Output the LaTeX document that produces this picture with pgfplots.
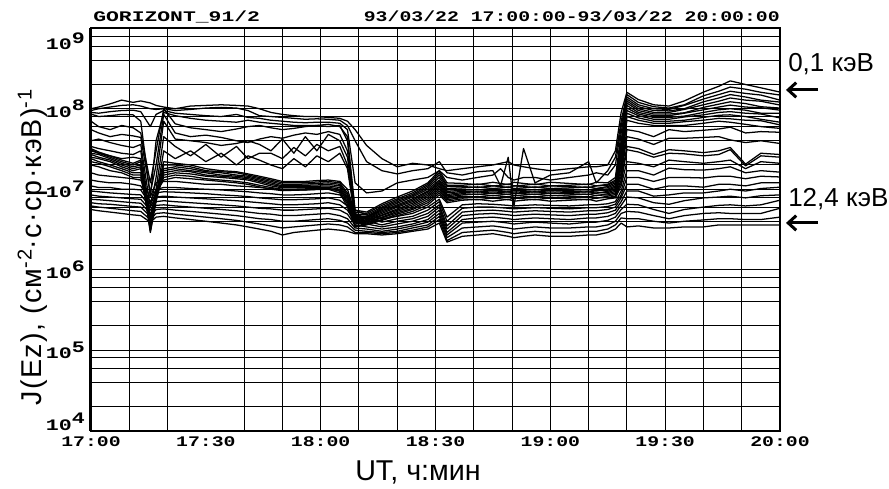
\documentclass[border=0pt]{standalone}
\usepackage{fontspec}
\usepackage{graphicx}
\usepackage{pgfplots}
\usepackage{pgfplotstable}
\pgfplotsset{compat=1.18}
\usetikzlibrary{arrows.meta}
\setmainfont{Liberation Sans}
\newfontfamily\pixfont{Liberation Mono}[FakeStretch=1.35]
\newcommand\tickfont{\pixfont\bfseries\fontsize{11pt}{12pt}\selectfont}
\newcommand\ytickfont{\pixfont\bfseries\fontsize{12pt}{13pt}\selectfont}
\newcommand\labfont{\fontsize{21.5pt}{24pt}\selectfont}
\newcommand\notefont{\fontsize{19.5pt}{22pt}\selectfont}
\newcommand\dec[1]{10\raisebox{5pt}{#1}}

% Electron flux J(Ez) in 26 energy channels, 0.1 keV (c1) ... 12.4 keV (c26)
% t: minutes after 17:00 UT
\pgfplotstableread{
t c1 c2 c3 c4 c5 c6 c7 c8 c9 c10 c11 c12 c13 c14 c15 c16 c17 c18 c19 c20 c21 c22 c23 c24 c25 c26
0 100e6 95e6 90e6 86e6 70e6 55e6 40e6 34e6 31e6 32e6 30e6 28e6 27e6 25e6 24e6 22e6 20e6 16e6 13e6 11e6 9.5e6 8.5e6 7.5e6 6.8e6 6.2e6 5.6e6
2 105e6 100e6 88e6 80e6 60e6 50e6 42e6 32e6 28e6 29e6 28e6 27e6 25e6 24e6 22e6 21e6 19e6 15e6 12.5e6 10.5e6 9.3e6 8.2e6 7.4e6 6.6e6 6.0e6 5.4e6
5 115e6 105e6 92e6 82e6 55e6 45e6 38e6 30e6 26e6 26e6 25e6 24e6 23e6 22e6 20e6 19e6 17e6 14.5e6 12e6 10.5e6 9.0e6 8.0e6 7.2e6 6.5e6 5.8e6 5.2e6
8 128e6 110e6 95e6 85e6 62e6 48e6 35e6 28e6 24e6 23e6 22e6 21e6 20e6 19e6 18e6 17e6 16e6 14e6 12e6 10e6 8.8e6 7.8e6 7.0e6 6.3e6 5.6e6 5.0e6
11 120e6 112e6 96e6 84e6 58e6 46e6 33e6 27e6 25e6 21e6 20e6 19e6 18e6 17e6 16e6 15e6 14e6 13.5e6 11.5e6 10e6 8.6e6 7.6e6 6.8e6 6.1e6 5.4e6 4.8e6
13 125e6 108e6 92e6 70e6 50e6 44e6 36e6 30e6 24e6 23e6 22e6 20e6 19e6 18e6 16e6 15e6 14e6 13e6 11e6 9.8e6 8.5e6 7.5e6 6.7e6 6.0e6 5.3e6 4.7e6
15.5 118e6 100e6 60e6 8e6 12e6 9e6 6e6 4.5e6 4e6 3.5e6 3.2e6 3.0e6 2.9e6 3.1e6 3.4e6 3.8e6 4.2e6 8e6 7e6 6.5e6 6e6 5.5e6 5e6 4.6e6 4.2e6 3.9e6
17 110e6 98e6 85e6 40e6 30e6 20e6 14e6 10e6 8e6 9e6 8e6 7.5e6 7e6 7.5e6 8e6 8.5e6 9e6 12e6 10e6 9e6 8e6 7e6 6.3e6 5.6e6 5.0e6 4.5e6
19 105e6 100e6 95e6 90e6 100e6 85e6 70e6 45e6 30e6 22e6 20e6 18e6 17e6 16e6 15e6 14e6 13e6 12.5e6 10.5e6 9.3e6 8.2e6 7.2e6 6.4e6 5.7e6 5.1e6 4.6e6
22 100e6 95e6 88e6 82e6 65e6 50e6 42e6 34e6 24e6 21e6 20e6 19e6 18e6 17e6 16e6 15e6 14e6 12.5e6 10.5e6 9.2e6 8.0e6 7.0e6 6.2e6 5.5e6 4.9e6 4.4e6
26 108e6 98e6 85e6 76e6 58e6 45e6 40e6 26e6 30e6 20e6 19e6 18e6 17e6 16.5e6 15.5e6 14.5e6 13.5e6 12e6 10.2e6 9.0e6 7.8e6 6.8e6 6.0e6 5.3e6 4.7e6 4.2e6
30 110e6 102e6 82e6 72e6 55e6 47e6 38e6 36e6 22e6 18e6 17e6 16.5e6 16e6 15e6 14.5e6 13.5e6 13e6 11.5e6 10e6 8.8e6 7.6e6 6.6e6 5.8e6 5.1e6 4.5e6 4.0e6
34 112e6 104e6 80e6 70e6 52e6 44e6 35e6 25e6 28e6 17e6 16.5e6 16e6 15e6 14.5e6 14e6 13e6 12.5e6 11.5e6 9.8e6 8.5e6 7.4e6 6.4e6 5.6e6 4.9e6 4.3e6 3.8e6
38 110e6 102e6 85e6 68e6 56e6 40e6 37e6 34e6 20e6 16.5e6 16e6 15e6 14.5e6 14e6 13.5e6 12.5e6 12e6 11e6 9.5e6 8.3e6 7.2e6 6.2e6 5.4e6 4.7e6 4.1e6 3.6e6
41 108e6 95e6 78e6 72e6 60e6 38e6 40e6 24e6 26e6 15.5e6 15e6 14.5e6 14e6 13.5e6 13e6 12e6 11.5e6 10.8e6 9.3e6 8.1e6 7.0e6 6.0e6 5.2e6 4.5e6 3.9e6 3.4e6
44 100e6 82e6 76e6 68e6 62e6 42e6 36e6 28e6 23e6 14.5e6 14e6 13.5e6 13e6 12.5e6 12e6 11.2e6 10.7e6 10.5e6 9.0e6 7.8e6 6.8e6 5.8e6 5.0e6 4.3e6 3.7e6 3.2e6
47 90e6 80e6 72e6 66e6 58e6 45e6 30e6 28e6 20e6 13.5e6 13e6 12.5e6 12e6 11.5e6 11e6 10.5e6 10e6 10.2e6 8.8e6 7.6e6 6.6e6 5.7e6 4.9e6 4.2e6 3.5e6 3.0e6
50 85e6 78e6 70e6 64e6 55e6 43e6 42e6 24e6 18e6 12.5e6 12e6 11.5e6 11e6 10.7e6 10.4e6 10e6 9.6e6 9.8e6 8.5e6 7.4e6 6.4e6 5.5e6 4.7e6 4.0e6 3.3e6 2.7e6
53 82e6 76e6 68e6 62e6 57e6 47e6 28e6 33e6 24e6 12.5e6 12e6 11.5e6 11.2e6 10.8e6 10.4e6 10e6 9.7e6 9.8e6 8.5e6 7.4e6 6.4e6 5.5e6 4.7e6 4.0e6 3.4e6 2.9e6
56 80e6 74e6 67e6 62e6 60e6 50e6 45e6 26e6 19e6 12.5e6 12e6 11.6e6 11.2e6 10.8e6 10.4e6 10.1e6 9.8e6 9.8e6 8.6e6 7.5e6 6.5e6 5.6e6 4.8e6 4.1e6 3.5e6 3.0e6
59 80e6 75e6 68e6 62e6 62e6 48e6 30e6 36e6 26e6 12.8e6 12.3e6 11.8e6 11.3e6 10.9e6 10.5e6 10.2e6 9.9e6 10e6 8.8e6 7.6e6 6.6e6 5.7e6 4.9e6 4.2e6 3.6e6 3.1e6
62 78e6 74e6 68e6 64e6 60e6 52e6 48e6 30e6 22e6 13e6 12.5e6 12e6 11.5e6 11e6 10.6e6 10.3e6 10e6 10.2e6 9e6 7.8e6 6.8e6 5.8e6 5.0e6 4.3e6 3.7e6 3.2e6
65 76e6 72e6 66e6 60e6 62e6 48e6 40e6 34e6 28e6 12.5e6 12e6 11.5e6 11e6 10.5e6 10e6 9.5e6 9e6 9.5e6 8.5e6 7.3e6 6.4e6 5.5e6 4.7e6 4.1e6 3.6e6 3.1e6
67 70e6 62e6 55e6 45e6 40e6 30e6 25e6 20e6 18e6 10e6 9e6 8.5e6 8e6 7.5e6 7e6 6.5e6 6e6 8e6 7e6 6.2e6 5.5e6 4.9e6 4.3e6 3.8e6 3.4e6 3.0e6
69 55e6 40e6 12e6 5.5e6 5.2e6 4.9e6 4.6e6 4.4e6 4.2e6 5e6 4.7e6 4.4e6 4.1e6 3.9e6 3.7e6 3.5e6 3.4e6 5.5e6 4.8e6 4.3e6 3.9e6 3.6e6 3.3e6 3.1e6 2.9e6 2.8e6
72 35e6 22e6 9e6 5.2e6 5.0e6 4.8e6 4.6e6 4.5e6 4.4e6 4.3e6 4.2e6 4.1e6 4.0e6 3.9e6 3.8e6 3.7e6 3.6e6 4.8e6 4.4e6 4.0e6 3.7e6 3.4e6 3.2e6 3.0e6 2.9e6 2.8e6
76 24e6 17e6 9.5e6 6.6e6 6.3e6 6.0e6 5.8e6 5.6e6 5.4e6 5.2e6 5.0e6 4.8e6 4.7e6 4.5e6 4.4e6 4.2e6 4.1e6 4.3e6 3.9e6 3.6e6 3.4e6 3.2e6 3.0e6 2.9e6 2.8e6 2.7e6
80 19e6 15.5e6 12e6 8.0e6 7.6e6 7.3e6 7.0e6 6.7e6 6.4e6 6.2e6 6.0e6 5.7e6 5.5e6 5.3e6 5.1e6 4.9e6 4.7e6 4.6e6 4.3e6 4.0e6 3.7e6 3.4e6 3.2e6 3.0e6 2.9e6 2.8e6
84 21e6 17e6 13e6 9.5e6 9.0e6 8.6e6 8.3e6 8.0e6 7.6e6 7.3e6 7.0e6 6.7e6 6.4e6 6.1e6 5.8e6 5.6e6 5.3e6 5.0e6 4.6e6 4.3e6 4.0e6 3.7e6 3.5e6 3.3e6 3.1e6 3.0e6
88 20e6 18e6 14e6 12e6 11.5e6 11e6 10.5e6 10e6 9.5e6 9.2e6 8.8e6 8.4e6 8.0e6 7.6e6 7.2e6 6.8e6 6.4e6 6.0e6 5.5e6 5.0e6 4.6e6 4.2e6 3.9e6 3.6e6 3.4e6 3.2e6
91 18e6 22e6 17e6 17e6 16e6 15e6 14e6 13e6 12.5e6 12e6 11.5e6 11e6 10.5e6 10e6 9.5e6 9e6 8.5e6 7.5e6 7.0e6 6.4e6 6.0e6 5.5e6 5.0e6 4.6e6 4.2e6 3.8e6
93 17e6 16e6 14e6 12e6 11.2e6 10.8e6 10.2e6 9.8e6 9.4e6 9.0e6 8.6e6 8.3e6 8.0e6 7.7e6 7.4e6 7.1e6 6.8e6 4.5e6 4.0e6 3.5e6 3.2e6 2.9e6 2.7e6 2.5e6 2.3e6 2.2e6
97 18e6 15e6 13e6 11.8e6 11.2e6 10.8e6 10.4e6 10.0e6 9.7e6 9.4e6 9.1e6 8.8e6 8.5e6 8.2e6 7.9e6 7.6e6 7.3e6 6.4e6 5.8e6 5.2e6 4.7e6 4.2e6 3.8e6 3.3e6 2.9e6 2.6e6
101 19e6 16.5e6 14e6 11.4e6 11.6e6 10.5e6 10.7e6 9.8e6 9.9e6 9.2e6 9.3e6 8.6e6 8.7e6 8.0e6 8.1e6 7.4e6 7.5e6 6.6e6 6.0e6 5.4e6 4.9e6 4.4e6 3.9e6 3.4e6 3.0e6 2.7e6
105 20e6 17e6 15e6 12.2e6 11.0e6 11.0e6 10.2e6 10.2e6 9.5e6 9.6e6 8.9e6 9.0e6 8.3e6 8.4e6 7.7e6 7.8e6 7.1e6 6.5e6 6.0e6 5.5e6 5.0e6 4.5e6 4.0e6 3.5e6 3.1e6 2.8e6
107 21e6 11e6 18e6 11.8e6 11.2e6 10.8e6 10.4e6 10.0e6 9.7e6 9.4e6 9.1e6 8.8e6 8.5e6 8.2e6 7.9e6 7.6e6 7.3e6 6.4e6 5.9e6 5.4e6 4.9e6 4.4e6 3.9e6 3.4e6 3.0e6 2.7e6
109 22e6 25e6 14e6 11.4e6 11.6e6 10.5e6 10.7e6 9.8e6 9.9e6 9.2e6 9.3e6 8.6e6 8.7e6 8.0e6 8.1e6 7.4e6 7.5e6 6.3e6 5.8e6 5.3e6 4.8e6 4.3e6 3.8e6 3.3e6 2.9e6 2.6e6
110.5 20e6 6.2e6 13e6 12.2e6 11.0e6 11.0e6 10.2e6 10.2e6 9.5e6 9.6e6 8.9e6 9.0e6 8.3e6 8.4e6 7.7e6 7.8e6 7.1e6 6.2e6 5.7e6 5.2e6 4.7e6 4.2e6 3.7e6 3.2e6 2.8e6 2.5e6
113 19e6 32e6 14e6 11.8e6 11.2e6 10.8e6 10.4e6 10.0e6 9.7e6 9.4e6 9.1e6 8.8e6 8.5e6 8.2e6 7.9e6 7.6e6 7.3e6 6.3e6 5.8e6 5.3e6 4.8e6 4.3e6 3.8e6 3.3e6 2.9e6 2.6e6
116 18e6 12e6 14e6 11.4e6 11.6e6 10.5e6 10.7e6 9.8e6 9.9e6 9.2e6 9.3e6 8.6e6 8.7e6 8.0e6 8.1e6 7.4e6 7.5e6 6.4e6 5.9e6 5.4e6 4.9e6 4.4e6 3.9e6 3.4e6 3.0e6 2.7e6
120 17e6 15e6 13e6 12.2e6 11.0e6 11.0e6 10.2e6 10.2e6 9.5e6 9.6e6 8.9e6 9.0e6 8.3e6 8.4e6 7.7e6 7.8e6 7.1e6 6.3e6 5.8e6 5.3e6 4.8e6 4.3e6 3.8e6 3.3e6 2.9e6 2.6e6
125 18e6 16e6 14e6 11.8e6 11.2e6 10.8e6 10.4e6 10.0e6 9.7e6 9.4e6 9.1e6 8.8e6 8.5e6 8.2e6 7.9e6 7.6e6 7.3e6 6.2e6 5.7e6 5.2e6 4.7e6 4.2e6 3.7e6 3.3e6 2.9e6 2.6e6
130 19e6 22e6 15e6 11.4e6 11.6e6 10.5e6 10.7e6 9.8e6 9.9e6 9.2e6 9.3e6 8.6e6 8.7e6 8.0e6 8.1e6 7.4e6 7.5e6 6.4e6 5.9e6 5.4e6 4.9e6 4.4e6 3.9e6 3.4e6 3.0e6 2.7e6
132 19e6 12e6 16e6 12.2e6 11.0e6 11.0e6 10.2e6 10.2e6 9.5e6 9.6e6 8.9e6 9.0e6 8.3e6 8.4e6 7.7e6 7.8e6 7.1e6 6.4e6 5.9e6 5.4e6 4.9e6 4.4e6 3.9e6 3.4e6 3.0e6 2.7e6
135 20e6 17e6 15e6 12e6 11.5e6 11.2e6 10.8e6 10.4e6 10e6 9.7e6 9.4e6 9.1e6 8.8e6 8.5e6 8.2e6 7.9e6 7.6e6 6.6e6 6.1e6 5.6e6 5.1e6 4.6e6 4.1e6 3.6e6 3.2e6 2.9e6
137 30e6 25e6 20e6 14e6 13e6 12.5e6 12e6 11.5e6 11e6 10.6e6 10.2e6 9.8e6 9.4e6 9e6 8.6e6 8.2e6 7.8e6 7e6 6.5e6 6e6 5.5e6 5e6 4.5e6 4e6 3.6e6 3.2e6
138.5 90e6 70e6 60e6 50e6 40e6 35e6 30e6 28e6 25e6 22e6 20e6 18e6 16e6 14.5e6 13e6 12e6 11e6 9.5e6 8.5e6 7.8e6 7e6 6.3e6 5.6e6 5.0e6 4.4e6 3.8e6
140 160e6 150e6 140e6 132e6 125e6 118e6 110e6 102e6 95e6 88e6 80e6 72e6 55e6 45e6 34e6 31e6 22e6 17e6 14e6 11.5e6 9.5e6 8e6 6.5e6 5.3e6 4.3e6 3.4e6
143 130e6 120e6 112e6 106e6 100e6 95e6 90e6 86e6 82e6 77e6 72e6 66e6 52e6 42e6 32e6 29e6 21e6 17e6 14e6 11.5e6 9.5e6 7.8e6 6.4e6 5.2e6 4.3e6 3.5e6
147 112e6 106e6 100e6 95e6 90e6 86e6 82e6 78e6 74e6 70e6 66e6 62e6 45e6 36e6 27e6 25e6 19e6 15e6 12.5e6 10e6 8.2e6 6.8e6 5.6e6 4.7e6 4.0e6 3.3e6
151 108e6 102e6 98e6 94e6 90e6 86e6 82e6 78e6 74e6 70e6 66e6 62e6 55e6 43e6 31e6 28e6 23e6 18.3e6 14e6 11e6 8.5e6 6.5e6 5.0e6 4.3e6 3.8e6 3.3e6
155 125e6 112e6 110e6 100e6 98e6 89e6 88e6 81e6 79e6 72e6 69e6 62e6 52e6 43e6 30e6 27.5e6 22e6 17.5e6 14e6 11e6 9.0e6 7.2e6 5.6e6 4.7e6 4.0e6 3.4e6
160 161e6 145e6 132e6 122e6 112e6 104e6 97e6 90e6 84e6 78e6 72e6 66e6 54e6 44e6 28.5e6 26e6 21e6 17.3e6 13.8e6 10.6e6 9.0e6 7.8e6 6.0e6 5.0e6 4.15e6 3.4e6
164 190e6 165e6 150e6 136e6 124e6 114e6 105e6 97e6 90e6 83e6 76e6 70e6 56e6 45e6 30e6 27e6 22e6 18e6 14.5e6 11.5e6 9.5e6 8.0e6 6.3e6 5.1e6 4.3e6 3.6e6
167 222e6 186e6 165e6 150e6 136e6 122e6 111e6 100e6 92e6 84e6 75e6 68e6 59e6 41e6 33e6 31e6 23e6 19e6 14.5e6 11.5e6 10e6 8.2e6 6.4e6 5.0e6 4.3e6 3.6e6
171 200e6 175e6 155e6 140e6 128e6 116e6 105e6 96e6 88e6 80e6 72e6 64e6 50e6 38e6 20.5e6 19.5e6 18e6 16e6 13.5e6 11e6 9.5e6 7.8e6 6.2e6 5.0e6 4.2e6 3.6e6
175 182e6 160e6 148e6 128e6 124e6 106e6 103e6 88e6 86e6 74e6 71e6 60e6 52e6 40e6 28e6 26e6 22e6 17e6 14.5e6 12e6 10.2e6 8.3e6 6.4e6 5.0e6 4.2e6 3.6e6
180 161e6 148e6 128e6 121e6 111e6 102e6 96e6 88e6 77e6 68e6 63e6 57e6 51e6 37e6 27e6 25e6 21e6 16.3e6 14.2e6 12e6 10.6e6 8.5e6 7.3e6 5.8e6 4.5e6 3.6e6
}\flux

\begin{document}
\begin{tikzpicture}
\useasboundingbox (-68.25pt,-43.7pt) rectangle (598.5pt,323.0pt);
\begin{axis}[
  at={(0pt,0pt)}, anchor=south west,
  scale only axis, width=516.75pt, height=301.8pt,
  xmin=0, xmax=180,
  ymode=log, ymin=1e4, ymax=1e9,
  clip=false,
  xtick={0,30,60,90,120,150,180},
  xticklabels={17:00,17:30,18:00,18:30,19:00,19:30,20:00},
  extra x ticks={10,20,40,50,60,70,80,90,100,110,120,130,140,150,160,170},
  extra x tick labels={},
  extra x tick style={grid=major},
  ytick={1e4,1e5,1e6,1e7,1e8,1e9},
  yticklabels={{\raisebox{6.5pt}[\height][\depth]{\dec{4}}},{\dec{5}},{\dec{6}},{\dec{7}},{\dec{8}},{\raisebox{-9.75pt}[\height][\depth]{\dec{9}}}},
  minor ytick={2e4,4e4,6e4,8e4,2e5,4e5,6e5,8e5,2e6,4e6,6e6,8e6,2e7,4e7,6e7,8e7,2e8,4e8,6e8,8e8},
  ymajorgrids, yminorgrids,
  major tick length=0pt, minor tick length=0pt,
  grid style={black, line width=0.75pt},
  minor grid style={black, line width=0.75pt},
  major grid style={black, line width=0.75pt},
  axis line style={black, line width=1.5pt},
  xticklabel style={font=\tickfont, anchor=north, inner sep=0pt, yshift=-4.5pt},
  yticklabel style={font=\ytickfont, anchor=east, inner sep=0pt, xshift=-4.5pt},
]
\pgfplotsinvokeforeach{1,...,26}{
  \addplot[black, line width=0.95pt, no markers, line join=round] table[x=t, y=c#1] {\flux};
}
\draw[line width=2.25pt] (rel axis cs:0,0) -- (rel axis cs:0,1);
% header
\node[anchor=base west, inner sep=0pt, xshift=1.5pt, yshift=5pt, font=\tickfont] at (rel axis cs:0,1) {\scalebox{1.08}[1]{GORIZONT\_91/2}};
\node[anchor=base east, inner sep=0pt, yshift=5pt, font=\tickfont] at (rel axis cs:1,1) {93/03/22 17:00:00-93/03/22 20:00:00};
% axis titles
\node[anchor=base, inner sep=0pt, yshift=-37.5pt, font=\labfont] at (rel axis cs:0.4746,0) {UT, ч:мин};
\node[xshift=-37pt, rotate=90, anchor=base, inner sep=0pt, font=\labfont\addfontfeature{LetterSpace=4.5}] at (rel axis cs:0,0.4565)
  {J(Ez), (см\textsuperscript{-2}·с·ср·кэВ)\textsuperscript{-1}};
% channel markers
\node[anchor=base west, inner sep=0pt, xshift=6pt, font=\notefont] at (rel axis cs:1,0.8914) {0,1 кэВ};
\node[anchor=base west, inner sep=0pt, xshift=6pt, font=\notefont] at (rel axis cs:1,0.5559) {12,4 кэВ};
\draw[line width=2.25pt, -{Straight Barb[length=6pt, width=11pt]}]
  ([xshift=28.5pt]rel axis cs:1,0.8467) -- ([xshift=4.5pt]rel axis cs:1,0.8467);
\draw[line width=2.25pt, -{Straight Barb[length=6pt, width=11pt]}]
  ([xshift=28.5pt]rel axis cs:1,0.5162) -- ([xshift=4.5pt]rel axis cs:1,0.5162);
\end{axis}
\end{tikzpicture}
\end{document}
